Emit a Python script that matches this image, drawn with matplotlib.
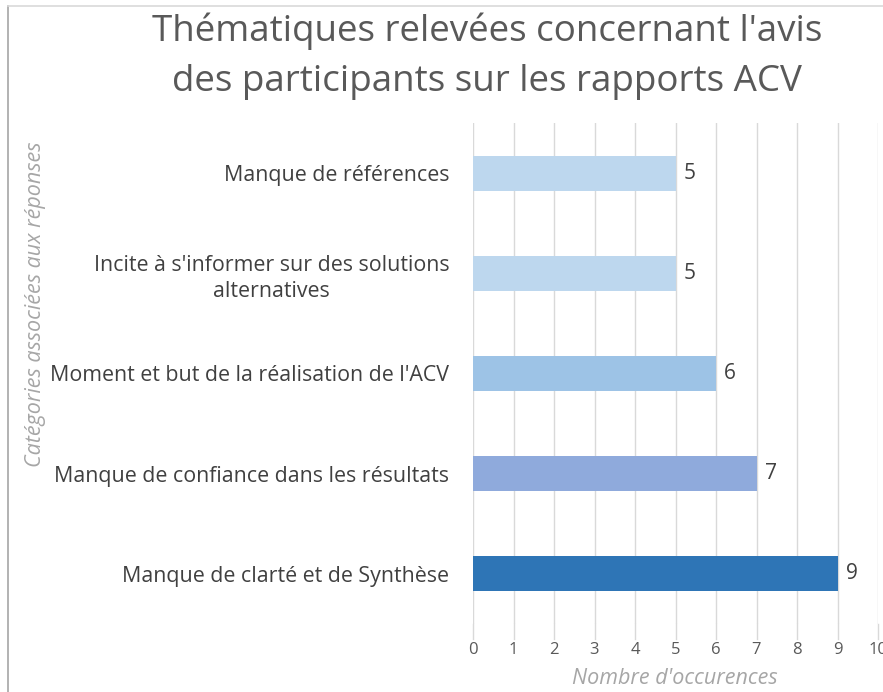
import matplotlib
matplotlib.use("Agg")
import matplotlib.pyplot as plt
from matplotlib.lines import Line2D

plt.rcParams['font.family'] = ['Open Sans', 'DejaVu Sans']

# data, top to bottom as in the chart
categories = ["Manque de références",
              "Incite à s'informer sur des solutions\nalternatives",
              "Moment et but de la réalisation de l'ACV",
              "Manque de confiance dans les résultats",
              "Manque de clarté et de Synthèse"]
values = [5, 5, 6, 7, 9]
colors = ["#BDD7EE", "#BDD7EE", "#9DC3E6", "#8FAADC", "#2E75B6"]
xticks = list(range(0, 11))

fig = plt.figure(figsize=(8.83, 6.92), dpi=100)
ax = fig.add_axes([473/883, 1 - 624/692, 405/883, 501/692])

y = list(range(len(categories)))
bars = ax.barh(y, values, height=0.35, color=colors, zorder=3)
ax.set_ylim(len(categories) - 0.5, -0.5)
ax.set_xlim(0, 10)

ax.set_yticks(y)
ax.set_yticklabels(categories, fontsize=15.4, color="#404040",
                   multialignment="center", linespacing=1.35)
ax.tick_params(axis='y', length=0, pad=17)

ax.set_xticks(xticks)
ax.set_xticklabels([str(t) for t in xticks], fontsize=12, color="#595959")
ax.tick_params(axis='x', length=0, pad=13)
ax.grid(axis='x', color="#D9D9D9", linewidth=1, zorder=0)
ax.set_axisbelow(True)
for s in ax.spines.values():
    s.set_visible(False)

# the gridlines run a bit below the plot area
for t in xticks:
    ax.plot([t, t], [len(categories) - 0.5, len(categories) - 0.35],
            color="#D9D9D9", lw=1, clip_on=False, zorder=0)

for b, v in zip(bars, values):
    ax.annotate(str(v), xy=(b.get_width(), b.get_y() + b.get_height() / 2),
                xytext=(6, 0), textcoords="offset points",
                ha='left', va='center', fontsize=15, color="#404040")

fig.text(487/883, 1 - 56/692,
         "Thématiques relevées concernant l'avis\ndes participants sur les rapports ACV",
         ha='center', va='center', fontsize=26.5, color="#595959",
         linespacing=1.5)

fig.text(675/883, 1 - 679/692, "Nombre d'occurences", ha='center', va='center',
         fontsize=15.5, style='italic', color="#A6A6A6")
fig.text(36/883, 1 - 304/692, "Catégories associées aux réponses", ha='center',
         va='center', rotation=90, fontsize=15.5, style='italic', color="#A6A6A6")

# chart frame (cut off at right and bottom)
fig.add_artist(Line2D([8/883, 8/883], [0, 1 - 6/692], color="#A6A6A6", lw=1.2,
                      transform=fig.transFigure))
fig.add_artist(Line2D([8/883, 1], [1 - 6/692, 1 - 6/692], color="#D9D9D9", lw=1.2,
                      transform=fig.transFigure))

fig.savefig("out.png", dpi=100)
